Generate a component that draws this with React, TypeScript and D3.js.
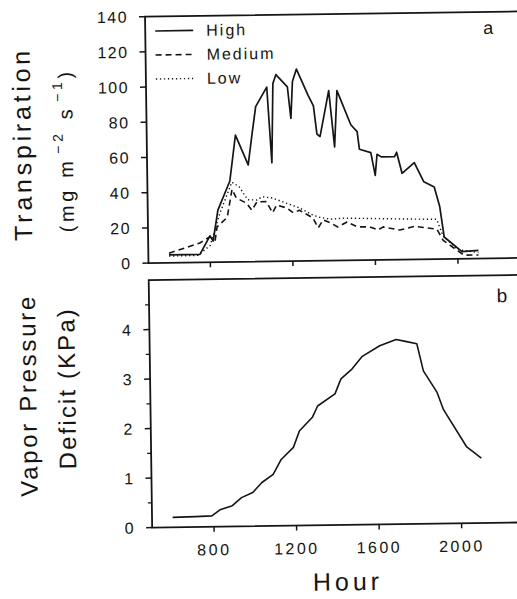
import React from "react";
import * as d3 from "d3";

// ---- data ----
const HIGH_HOURS = [600, 750, 800, 815, 840, 900, 930, 990, 1010, 1030, 1085, 1105, 1115, 1130, 1185, 1200, 1210, 1230, 1285, 1310, 1325, 1340, 1385, 1410, 1425, 1490, 1520, 1530, 1585, 1605, 1615, 1635, 1700, 1710, 1735, 1795, 1840, 1890, 1915, 1935, 2020, 2100];
const HIGH = [4.5, 4.5, 15, 12, 29.5, 46, 72, 55, 72, 88, 99, 56, 101, 106, 99, 81, 102, 109, 94, 88, 72, 70.5, 96.5, 64.5, 96.5, 77, 73, 63, 61, 48, 60, 58.5, 58.5, 61, 49, 55, 44, 41, 30, 12.5, 4, 4.6];

const MEDIUM_HOURS = [600, 690, 750, 800, 825, 835, 885, 910, 930, 980, 1005, 1030, 1075, 1105, 1125, 1175, 1205, 1235, 1300, 1325, 1350, 1385, 1420, 1465, 1515, 1575, 1615, 1640, 1720, 1795, 1855, 1900, 1930, 1965, 2030, 2100];
const MEDIUM = [5.5, 8.7, 11, 14.5, 12.5, 20, 25.4, 41.3, 36.3, 33.2, 29.2, 34, 34, 27.6, 32, 30.2, 27.4, 28.8, 24.4, 18.7, 23.2, 21.4, 19, 21.8, 18.9, 18.8, 17, 18.7, 16.8, 18.8, 17.7, 17, 10.6, 7.5, 2, 2];

const LOW_HOURS = [600, 740, 800, 850, 910, 945, 985, 1030, 1055, 1105, 1175, 1235, 1300, 1335, 1385, 1450, 1600, 1750, 1900, 1930, 2000, 2100];
const LOW = [3.8, 4, 9.5, 28, 45.3, 42.6, 35.2, 35, 36.8, 36, 32.8, 30.2, 26, 24.6, 23.5, 24, 23.5, 23, 22.6, 13, 5.2, 3.4];

const VPD_HOURS = [600, 710, 790, 830, 890, 935, 990, 1035, 1090, 1130, 1190, 1220, 1285, 1310, 1395, 1425, 1480, 1530, 1615, 1695, 1740, 1795, 1825, 1890, 1920, 2030, 2100];
const VPD = [0.2, 0.21, 0.22, 0.34, 0.42, 0.58, 0.68, 0.88, 1.04, 1.34, 1.58, 1.91, 2.19, 2.41, 2.65, 2.95, 3.15, 3.4, 3.61, 3.73, 3.69, 3.64, 3.09, 2.65, 2.3, 1.54, 1.31];

const X_TICKS = [800, 1200, 1600, 2000];
const TOP_Y_TICKS = [0, 20, 40, 60, 80, 100, 120, 140];
const BOTTOM_Y_TICKS = [0, 1, 2, 3, 4];
const BOTTOM_Y_MINOR = [0.5, 1.5, 2.5, 3.5, 4.5];
const LEGEND_NAMES = ["High", "Medium", "Low"];
const LEGEND_DASH = ["none", "6,4", "1.3,2.7"];

const INK = "#151515";
const FONT = "'Liberation Sans', Arial, sans-serif";

export default function App() {
  const x = d3.scaleLinear().domain([500, 2400]).range([149, 541]);
  const yT = d3.scaleLinear().domain([0, 140]).range([261, 14.5]);
  const yB = d3.scaleLinear().domain([0, 5]).range([525.5, 278]);
  const line = d3.line<[number, number]>();

  const pathT = (hs: number[], vs: number[]) =>
    line(hs.map((h, i) => [x(h), yT(vs[i])] as [number, number])) || "";
  const pathB = (hs: number[], vs: number[]) =>
    line(hs.map((h, i) => [x(h), yB(vs[i])] as [number, number])) || "";

  const series = [
    { d: pathT(HIGH_HOURS, HIGH), dash: LEGEND_DASH[0], w: 1.7 },
    { d: pathT(MEDIUM_HOURS, MEDIUM), dash: LEGEND_DASH[1], w: 1.6 },
    { d: pathT(LOW_HOURS, LOW), dash: LEGEND_DASH[2], w: 1.4 },
  ];

  const axX0 = x(500);
  const axX1 = x(2400);
  const tickFont = { fontFamily: FONT, fontSize: 16, letterSpacing: 1.5, fill: INK } as any;

  const legendY = [29, 53, 77];
  const legendBase = [34.5, 58.5, 82.5];

  return (
    <svg
      width={517}
      height={599}
      style={{ position: "absolute", left: 0, top: 0, background: "#fff" }}
    >
      <rect x={0} y={0} width={517} height={599} fill="#fff" />
      <g transform="rotate(-0.8, 300, 300)">
        {/* ---------- Top panel ---------- */}
        <path
          d={`M${axX1},${yT(140)}H${axX0}V${yT(0)}H${axX1}`}
          fill="none"
          stroke={INK}
          strokeWidth={1.8}
        />
        {TOP_Y_TICKS.map((t) => (
          <g key={"ty" + t}>
            <line x1={axX0 - 6} x2={axX0} y1={yT(t)} y2={yT(t)} stroke={INK} strokeWidth={1.5} />
            <text x={axX0 - 17} y={yT(t)} dy="0.36em" textAnchor="end" {...tickFont}>
              {t}
            </text>
          </g>
        ))}
        {X_TICKS.map((t) => (
          <line key={"tx" + t} x1={x(t)} x2={x(t)} y1={yT(0)} y2={yT(0) + 5} stroke={INK} strokeWidth={1.5} />
        ))}
        {series.map((s, i) => (
          <path
            key={"s" + i}
            d={s.d}
            fill="none"
            stroke={INK}
            strokeWidth={s.w}
            strokeDasharray={s.dash}
            strokeLinejoin="round"
          />
        ))}
        {LEGEND_NAMES.map((n, i) => (
          <g key={"lg" + n}>
            <line
              x1={159}
              x2={197}
              y1={legendY[i]}
              y2={legendY[i]}
              stroke={INK}
              strokeWidth={series[i].w}
              strokeDasharray={LEGEND_DASH[i]}
            />
            <text x={210} y={legendBase[i]} {...tickFont} letterSpacing={2}>
              {n}
            </text>
          </g>
        ))}
        <text x={492} y={36.5} textAnchor="middle" fontFamily={FONT} fontSize={18} fill={INK}>
          a
        </text>
        <text
          transform="translate(33,142) rotate(-90)"
          textAnchor="middle"
          fontFamily={FONT}
          fontSize={25}
          fill={INK}
          textLength={190}
          lengthAdjust="spacing"
        >
          Transpiration
        </text>
        <text
          transform="translate(75,147) rotate(-90)"
          textAnchor="middle"
          fontFamily={FONT}
          fontSize={20}
          fill={INK}
          letterSpacing={3.6}
        >
          (mg m
          <tspan fontSize={14} dy={-10} dx={4}>
            −2
          </tspan>
          <tspan dy={10} dx={2}> s</tspan>
          <tspan fontSize={14} dy={-10} dx={4}>
            −1
          </tspan>
          <tspan dy={10}>)</tspan>
        </text>

        {/* ---------- Bottom panel ---------- */}
        <path
          d={`M${axX1},${yB(5)}H${axX0}V${yB(0)}H${axX1}`}
          fill="none"
          stroke={INK}
          strokeWidth={1.8}
        />
        {BOTTOM_Y_TICKS.map((t) => (
          <g key={"by" + t}>
            <line x1={axX0 - 6} x2={axX0} y1={yB(t)} y2={yB(t)} stroke={INK} strokeWidth={1.5} />
            <text x={axX0 - 17} y={yB(t)} dy="0.36em" textAnchor="end" {...tickFont}>
              {t}
            </text>
          </g>
        ))}
        {BOTTOM_Y_MINOR.map((t) => (
          <line key={"bm" + t} x1={axX0 - 4} x2={axX0} y1={yB(t)} y2={yB(t)} stroke={INK} strokeWidth={1.3} />
        ))}
        {X_TICKS.map((t) => (
          <g key={"bx" + t}>
            <line x1={x(t)} x2={x(t)} y1={yB(0)} y2={yB(0) + 5} stroke={INK} strokeWidth={1.5} />
            <text x={x(t)} y={554} textAnchor="middle" {...tickFont} letterSpacing={2.5}>
              {t}
            </text>
          </g>
        ))}
        <path
          d={pathB(VPD_HOURS, VPD)}
          fill="none"
          stroke={INK}
          strokeWidth={1.6}
          strokeLinejoin="round"
        />
        <text x={502} y={305} textAnchor="middle" fontFamily={FONT} fontSize={19} fill={INK}>
          b
        </text>
        <text
          transform="translate(35,393) rotate(-90)"
          textAnchor="middle"
          fontFamily={FONT}
          fontSize={24}
          fill={INK}
          textLength={200}
          lengthAdjust="spacing"
        >
          Vapor Pressure
        </text>
        <text
          transform="translate(74,386) rotate(-90)"
          textAnchor="middle"
          fontFamily={FONT}
          fontSize={24}
          fill={INK}
          textLength={160}
          lengthAdjust="spacing"
        >
          Deficit (KPa)
        </text>
        <text
          x={342}
          y={591}
          textAnchor="middle"
          fontFamily={FONT}
          fontSize={25}
          fill={INK}
          textLength={66}
          lengthAdjust="spacing"
        >
          Hour
        </text>
      </g>
    </svg>
  );
}
